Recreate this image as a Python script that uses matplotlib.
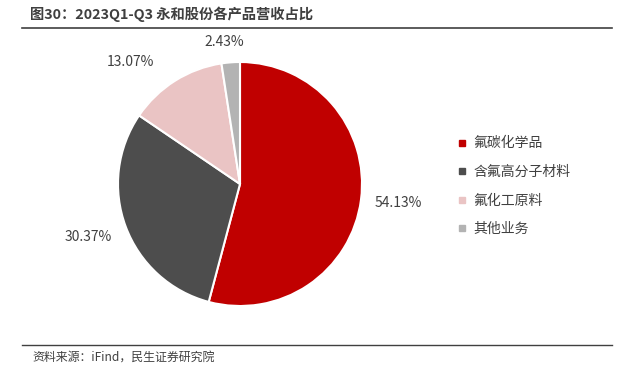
import numpy as np
import matplotlib.pyplot as plt
from matplotlib.lines import Line2D

plt.rcParams['font.family'] = ['Noto Sans CJK SC', 'DejaVu Sans']

# ==========================
# 数据
# ==========================
categories = ["氟碳化学品", "含氟高分子材料", "氟化工原料", "其他业务"]
shares = [54.13, 30.37, 13.07, 2.43]
colors = ["#C00000", "#4D4D4D", "#EAC4C4", "#B3B3B3"]

title = "图30：2023Q1-Q3 永和股份各产品营收占比"
source = "资料来源：iFind，民生证券研究院"

# 标签位置（以半径为单位）
label_pos = [(1.295, -0.156), (-1.246, -0.434), (-0.90, 1.0), (-0.131, 1.164)]

# ==========================
# 画图
# ==========================
fig = plt.figure(figsize=(6.28, 3.76), dpi=100)

# pie: center (240,184) px, radius 122 px
r_px = 122
cx, cy = 240, 184
ax = fig.add_axes([(cx - r_px) / 628, 1 - (cy + r_px) / 376,
                   2 * r_px / 628, 2 * r_px / 376])

wedges, _ = ax.pie(
    shares,
    colors=colors,
    startangle=90,
    counterclock=False,
    radius=1,
    wedgeprops=dict(edgecolor="white", linewidth=1.5),
)
ax.set_xlim(-1, 1)
ax.set_ylim(-1, 1)
ax.set_aspect("equal")
ax.axis("off")

for v, (x, y) in zip(shares, label_pos):
    ax.text(x, y, f"{v:.2f}%", ha="center", va="center",
            fontsize=10, color="#404040", clip_on=False)

# legend
handles = [Line2D([], [], marker="s", linestyle="", markersize=5,
                  markerfacecolor=c, markeredgecolor=c) for c in colors]
fig.legend(handles, categories, loc="upper left",
           bbox_to_anchor=(444 / 628, 1 - 124 / 376),
           frameon=False, fontsize=10, labelcolor="#404040",
           handlelength=0.8, handletextpad=0.4, labelspacing=1.05)

# title
fig.text(30 / 628, 1 - 14 / 376, title, ha="left", va="center",
         fontsize=10.3, fontweight="bold", color="#3F3F3F")
fig.add_artist(Line2D([22 / 628, 612 / 628], [1 - 28 / 376, 1 - 28 / 376],
                      color="#404040", linewidth=1.2))

# footer
fig.add_artist(Line2D([22 / 628, 612 / 628], [1 - 345 / 376, 1 - 345 / 376],
                      color="#404040", linewidth=1.0))
fig.text(32 / 628, 1 - 357 / 376, source, ha="left", va="center",
         fontsize=8.6, color="#404040")

fig.savefig("out.png", dpi=100, facecolor="white")
